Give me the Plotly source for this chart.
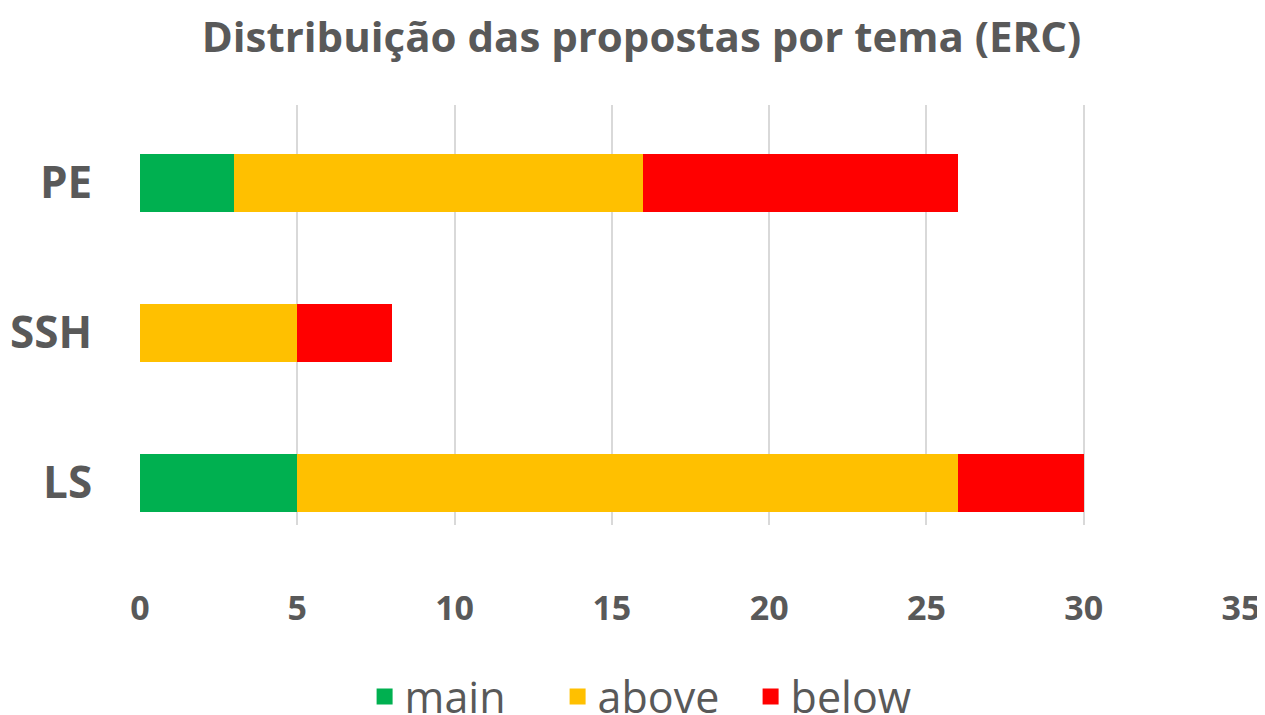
import plotly.graph_objects as go

# data
temas = ["LS", "SSH", "PE"]
main = [5, 0, 3]
above = [21, 5, 13]
below = [4, 3, 10]
x_ticks = [0, 5, 10, 15, 20, 25, 30, 35]

cores = {"main": "#00b050", "above": "#ffc000", "below": "#ff0000"}
cinza = "#595959"
fonte = "'Open Sans', 'Noto Sans', sans-serif"

fig = go.Figure()
for nome, vals in [("main", main), ("above", above), ("below", below)]:
    fig.add_trace(go.Bar(y=temas, x=vals, name=nome, orientation="h",
                         marker=dict(color=cores[nome], line_width=0),
                         width=0.39, showlegend=False))
# legend entries with bigger square swatches
for nome in ["main", "above", "below"]:
    fig.add_trace(go.Scatter(x=[None], y=[None], mode="markers", name=nome,
                             marker=dict(symbol="square", size=24, color=cores[nome])))

# page body has an 8px margin, so the figure is sized to fit inside the window
fig.update_layout(
    barmode="stack",
    width=1257, height=707,
    plot_bgcolor="white", paper_bgcolor="white",
    margin=dict(l=132, r=24, t=97, b=190),
    font=dict(family=fonte, color=cinza),
    title=dict(text="<b>Distribuição das propostas por tema (ERC)</b>",
               x=0.504, xanchor="center", y=0.958, yanchor="middle",
               font=dict(size=42, color=cinza)),
    legend=dict(orientation="h", xref="container", x=0.514, xanchor="center",
                yref="container", y=0.026, yanchor="middle",
                font=dict(size=43, color=cinza), traceorder="normal",
                itemwidth=30, entrywidth=148),
)
fig.update_xaxes(range=[0, 35], tickvals=x_ticks, showgrid=True,
                 gridcolor="#d9d9d9", gridwidth=2, zeroline=False,
                 showline=False, automargin=False,
                 tickfont=dict(size=34, color=cinza, weight="bold"),
                 ticks="outside", ticklen=53, tickcolor="rgba(0,0,0,0)")
fig.update_yaxes(range=[-0.28, 2.52], showgrid=False, zeroline=False, showline=False,
                 automargin=False,
                 tickfont=dict(size=44, color=cinza, weight="bold"),
                 ticks="outside", ticklen=38, tickcolor="rgba(0,0,0,0)")

fig.write_html("out.html")
